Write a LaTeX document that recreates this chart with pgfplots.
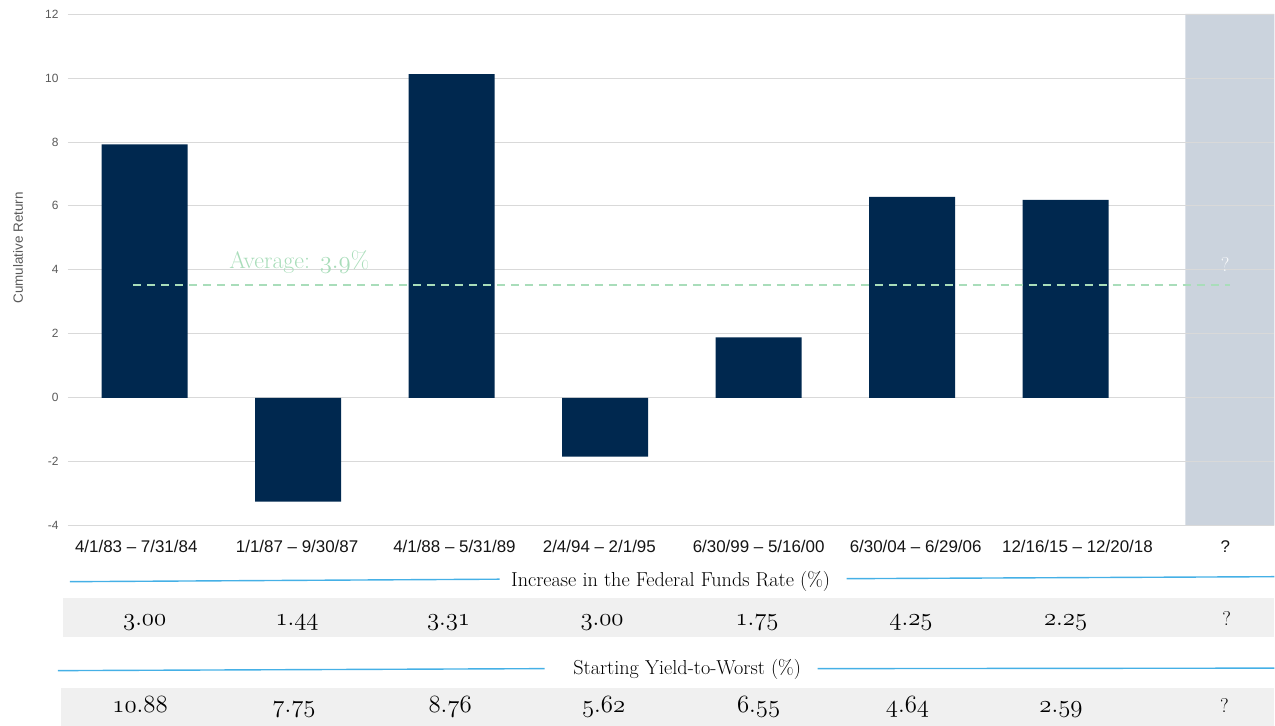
\documentclass[border=0pt]{standalone}
\usepackage{pgfplots}
\pgfplotsset{compat=1.18}
\usepackage{fontspec}
\newfontfamily\arial{Liberation Sans}
\definecolor{navy}{HTML}{00284F}
\definecolor{gridc}{HTML}{D9D9D9}
\definecolor{greyband}{HTML}{CBD3DD}
\definecolor{rowband}{HTML}{F0F0F0}
\definecolor{lineblue}{HTML}{45B0E6}
\definecolor{avggreen}{HTML}{A9DDBA}
\definecolor{tickc}{HTML}{595959}
% old-style figures: #1 . #2
\newcommand\osf[2]{{\usefont{OML}{cmm}{m}{it}#1\char58 #2}}
\newcommand\valfont{\fontsize{26.5}{30}\selectfont}
\begin{document}
\begin{tikzpicture}
\path (-68bp,-200bp) rectangle (1207bp,526bp);
% table bands (decoration)
\fill[rowband] (-5bp,-72bp) rectangle (1207bp,-111bp);
\fill[rowband] (-7bp,-162bp) rectangle (1207bp,-200bp);
\begin{axis}[
  at={(0,0)}, anchor=south west,
  scale only axis, width=1207bp, height=512bp,
  xmin=-0.5, xmax=7.36, ymin=-4, ymax=12,
  ytick={-4,-2,0,2,4,6,8,10,12},
  xtick={-0.055,0.993,2.018,2.962,4.0,5.023,6.077,7.04},
  xticklabels={4/1/83 – 7/31/84,1/1/87 – 9/30/87,4/1/88 – 5/31/89,2/4/94 – 2/1/95,6/30/99 – 5/16/00,6/30/04 – 6/29/06,12/16/15 – 12/20/18,?},
  ymajorgrids, grid style={color=gridc, line width=0.8bp},
  axis line style={draw=none},
  major tick length=0pt,
  /pgf/number format/assume math mode=true,
  yticklabel style={font=\arial\fontsize{12}{14}\selectfont, text=tickc, xshift=-6bp},
  xticklabel style={font=\arial\fontsize{17}{19}\selectfont, text=black!92, anchor=base, yshift=-27bp},
  set layers, clip=false,
]
\addplot[on layer=axis background, fill=greyband, draw=none] coordinates {(6.78,-4) (6.78,12) (7.36,12) (7.36,-4) (6.78,-4)};
\addplot[ybar, bar width=86bp, fill=navy, draw=none] coordinates {
  (0,7.92) (1,-3.25) (2,10.12) (3,-1.84) (4,1.89) (5,6.28) (6,6.19)};
\addplot[avggreen, line width=1.3bp, dash pattern=on 8bp off 6bp] coordinates {(-0.075,3.53) (7.07,3.53)};
\node[anchor=base west, inner sep=0pt, text=avggreen, font=\fontsize{24}{28}\selectfont] at (axis cs:0.55,4.03) {Average: \osf{3}{9}\%};
\node[text=white!90!greyband, font=\fontsize{20}{24}\selectfont] at (axis cs:7.04,4.16) {?};
% table values
\node[anchor=base, font=\valfont] at (axis cs:0,-7.125) {\osf{3}{00}};
\node[anchor=base, font=\valfont] at (axis cs:0.993,-7.125) {\osf{1}{44}};
\node[anchor=base, font=\valfont] at (axis cs:1.98,-7.125) {\osf{3}{31}};
\node[anchor=base, font=\valfont] at (axis cs:2.98,-7.125) {\osf{3}{00}};
\node[anchor=base, font=\valfont] at (axis cs:3.99,-7.125) {\osf{1}{75}};
\node[anchor=base, font=\valfont] at (axis cs:4.993,-7.125) {\osf{4}{25}};
\node[anchor=base, font=\valfont] at (axis cs:6.0,-7.125) {\osf{2}{25}};
\node[anchor=base, font=\valfont] at (axis cs:-0.03,-9.84) {\osf{10}{88}};
\node[anchor=base, font=\valfont] at (axis cs:0.973,-9.84) {\osf{7}{75}};
\node[anchor=base, font=\valfont] at (axis cs:1.99,-9.84) {\osf{8}{76}};
\node[anchor=base, font=\valfont] at (axis cs:2.99,-9.84) {\osf{5}{62}};
\node[anchor=base, font=\valfont] at (axis cs:4.0,-9.84) {\osf{6}{55}};
\node[anchor=base, font=\valfont] at (axis cs:4.97,-9.84) {\osf{4}{64}};
\node[anchor=base, font=\valfont] at (axis cs:5.97,-9.84) {\osf{2}{59}};
\node[anchor=base, font=\fontsize{20}{24}\selectfont] at (axis cs:7.05,-7.125) {?};
\node[anchor=base, font=\fontsize{20}{24}\selectfont] at (axis cs:7.035,-9.84) {?};
\end{axis}
\node[rotate=90, font=\arial\fontsize{13.5}{16}\selectfont, text=tickc] at (-50bp,278bp) {Cumulative Return};
% header rows
\node[anchor=base, font=\fontsize{20.3}{24}\selectfont] at (603bp,-61bp) {Increase in the Federal Funds Rate (\%)};
\draw[lineblue, line width=1.4bp] (2bp,-56bp) -- (432bp,-53.5bp);
\draw[lineblue, line width=1.4bp] (779bp,-53bp) -- (1207bp,-51bp);
\node[anchor=base, font=\fontsize{20.3}{24}\selectfont] at (619.5bp,-149bp) {Starting Yield-to-Worst (\%)};
\draw[lineblue, line width=1.4bp] (-10bp,-145bp) -- (477bp,-143bp);
\draw[lineblue, line width=1.4bp] (750bp,-143bp) -- (1207bp,-142.5bp);
\end{tikzpicture}
\end{document}
